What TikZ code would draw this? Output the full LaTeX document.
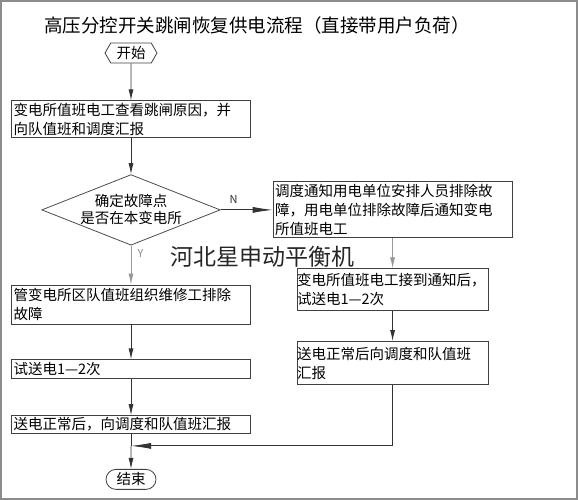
\documentclass[tikz,border=0pt]{standalone}
\usepackage{fontspec}
\setmainfont{Noto Sans CJK SC}
\usetikzlibrary{positioning,shapes.geometric,shapes.symbols,shapes.misc,arrows.meta}
\tikzset{
  box/.style={draw=black!75, line width=0.8pt, fill=white, align=left, text width=235pt,
    inner xsep=2pt, inner ysep=2pt, font=\fontsize{14.5}{19}\selectfont},
  narrowbox/.style={box, text width=191pt, inner xsep=0pt},
  terminal/.style={draw=black!75, line width=0.8pt, minimum width=52pt, minimum height=20pt,
    inner sep=1pt, font=\fontsize{14.5}{17}\selectfont},
  decision/.style={draw=black!70, line width=0.8pt, diamond, aspect=2.53, inner sep=0pt,
    minimum width=177pt, minimum height=70pt, align=center, font=\fontsize{14.5}{17}\selectfont},
  arr/.style={-{Latex[length=11pt,width=5pt]}, line width=0.8pt, black!80},
  arrlong/.style={-{Latex[length=20pt,width=6pt]}, line width=0.8pt, black!80}
}
\begin{document}
\begin{tikzpicture}[x=1pt, y=-1pt]
    \useasboundingbox (0,0) rectangle (578,500);
    \draw[black!45, line width=2pt] (1,1) rectangle (577,499);
    \node[font=\fontsize{18.5}{20}\selectfont] (title) at (257,25) {高压分控开关跳闸恢复供电流程（直接带用户负荷）};

    \node[terminal, signal, signal to=west and east, signal pointer angle=120] (start) at (131,53) {开始};
    \node[box, below=37pt of start, minimum height=37pt] (check) {变电所值班电工查看跳闸原因，并\\向队值班和调度汇报};
    \node[decision, below=36pt of check] (locate) {确定故障点\\是否在本变电所};
    \node[box, right=52pt of locate, minimum height=56pt] (notify) {调度通知用电单位安排人员排除故\\障，用电单位排除故障后通知变电\\所值班电工};
    \node[narrowbox, below=30pt of notify, minimum height=42pt] (retry) {变电所值班电工接到通知后，\\试送电1—2次};
    \node[narrowbox, below=30pt of retry, minimum height=43pt] (inform) {送电正常后向调度和队值班\\汇报};
    \node[box, below=39pt of locate, minimum height=39pt] (repair) {管变电所区队值班组织维修工排除\\故障};
    \node[box, below=35pt of repair, minimum height=19pt] (trial) {试送电1—2次};
    \node[box, below=36pt of trial, minimum height=18pt] (report) {送电正常后，向调度和队值班汇报};
    \node[terminal, rounded rectangle, below=35pt of report] (stop) {结束};
    \path (report.south) -- (stop.north) coordinate[pos=0.34] (join);

    \draw[arr] (start) -- (check);
    \draw[arr] (check) -- (locate);
    \draw[arrlong] (locate) -- node[pos=0.25, above=3pt, font=\fontsize{11}{11}\selectfont] {N} (notify);
    \draw[arr, black!40] (locate) -- node[pos=0.2, right=3pt, font=\fontsize{11}{11}\selectfont, black!45] {Y} (repair);
    \draw[arr, black!40] (notify) -- (retry);
    \draw[arr] (retry) -- (inform);
    \draw[arr] (repair) -- (trial);
    \draw[arr] (trial) -- (report);
    \draw[line width=0.8pt, black!80] (report) -- (join);
    \draw[arrlong] (inform.south) |- (join);
    \draw[arr] (join) -- (stop);

    \node[font=\fontsize{23}{23}\selectfont, black!85] (mark) at (262,257) {河北星申动平衡机};
\end{tikzpicture}
\end{document}
